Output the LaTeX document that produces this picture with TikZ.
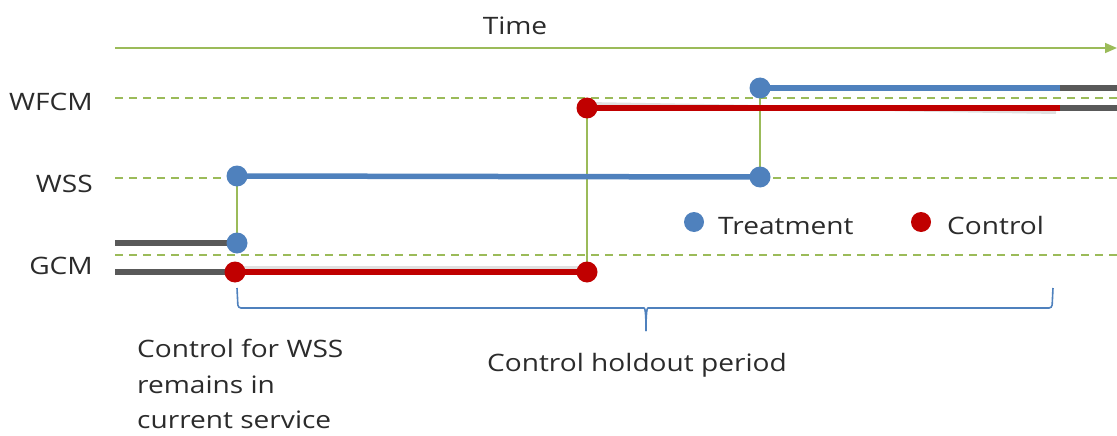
\documentclass[tikz,border=0pt]{standalone}
\usepackage{fontspec}
\setmainfont{Open Sans}[FakeStretch=1.17]
\usetikzlibrary{arrows.meta}
\definecolor{tgreen}{HTML}{9BBB59}
\definecolor{tblue}{HTML}{4F81BD}
\definecolor{tred}{HTML}{C00000}
\definecolor{tgray}{HTML}{595959}
\definecolor{ttext}{HTML}{2B2B2B}
\begin{document}
\begin{tikzpicture}[x=1pt,y=-1pt,
  lvl/.style={tgreen, line width=1.6pt, dash pattern=on 8pt off 6pt},
  txt/.style={font=\fontsize{24}{29}\selectfont, text=ttext, inner sep=0pt},
  ytick/.style={txt, anchor=east},
  conn/.style={tgreen, line width=1.6pt},
  bseg/.style={tblue, line width=5.5pt},
  rseg/.style={tred, line width=5.5pt},
  gseg/.style={tgray, line width=5.5pt},
  shadowline/.style={black!12, line width=4pt},
  bdot/.style={circle, fill=tblue, minimum size=21pt, inner sep=0pt},
  rdot/.style={circle, fill=tred, minimum size=21pt, inner sep=0pt},
  brace/.style={tblue, line width=1.6pt}
]
\useasboundingbox (0,0) rectangle (1117,436);
% time axis
\coordinate (t0) at (115,48);
\coordinate (t1) at (1117,48);
\draw[tgreen, line width=1.6pt, -{Triangle[length=12pt,width=10pt]}] (t0) -- (t1);
\node[txt] (time) at (515,26) {Time};
% level labels
\node[ytick] (lwfcm) at (93,102) {WFCM};
\node[ytick] (lwss) at (93,184) {WSS};
\node[ytick] (lgcm) at (93,266) {GCM};
% dashed levels
\coordinate (d1a) at (115,98); \coordinate (d1b) at (1117,98);
\coordinate (d2a) at (115,178); \coordinate (d2b) at (1117,178);
\coordinate (d3a) at (115,255); \coordinate (d3b) at (1117,255);
\draw[lvl] (d1a) -- (d1b);
\draw[lvl] (d2a) -- (d2b);
\draw[lvl] (d3a) -- (d3b);
% dots positions
\coordinate (b1) at (237,176);
\coordinate (b0) at (237,243);
\coordinate (b2) at (760,177);
\coordinate (b3) at (760,88);
\coordinate (r0) at (235,272);
\coordinate (r1) at (587,272);
\coordinate (r2) at (587,108);
% vertical connectors
\draw[conn] (b1) -- (b0);
\draw[conn] (r2) -- (r1);
\draw[conn] (b3) -- (b2);
% gray pre-lines
\coordinate (g1) at (115,243);
\coordinate (g2) at (115,272);
\draw[gseg] (g1) -- (b0);
\draw[gseg] (g2) -- (r0);
% shadows
\coordinate (s1) at (1056,112);
\draw[shadowline] ([yshift=4pt]r0) -- ([yshift=4pt]r1);
\draw[shadowline] ([yshift=4pt]r2) -- (s1);
% segments
\coordinate (e1) at (1060,88);
\coordinate (e2) at (1060,108);
\coordinate (f1) at (1117,88);
\coordinate (f2) at (1117,108);
\draw[bseg] (b1) -- (b2);
\draw[bseg] (b3) -- (e1);
\draw[gseg] (e1) -- (f1);
\draw[rseg] (r0) -- (r1);
\draw[rseg] (r2) -- (e2);
\draw[gseg] (e2) -- (f2);
% dots
\node[bdot] (nb1) at (b1) {};
\node[bdot] (nb0) at (b0) {};
\node[bdot] (nb2) at (b2) {};
\node[bdot] (nb3) at (b3) {};
\node[rdot] (nr0) at (r0) {};
\node[rdot] (nr1) at (r1) {};
\node[rdot] (nr2) at (r2) {};
% legend
\node[bdot, minimum size=20pt] (lgb) at (694,222) {};
\node[txt, anchor=west] (lgbt) at (718,226) {Treatment};
\node[rdot, minimum size=20pt] (lgr) at (921,222) {};
\node[txt, anchor=west] (lgrt) at (947,225) {Control};
% brace
\coordinate (brL) at (237,288);
\coordinate (brR) at (1053,288);
\coordinate (brM) at (646,331);
\draw[brace, rounded corners=3pt] (brL) -- (238,308) -- (641,308) .. controls (645,308) and (646,312) .. (brM);
\draw[brace, rounded corners=3pt] (brR) -- (1052,308) -- (651,308) .. controls (647,308) and (646,312) .. (brM);
% texts
\node[txt, anchor=west] (ctl) at (137,348) {Control for WSS};
\node[txt, anchor=west] (ctl2) at (137,385) {remains in};
\node[txt, anchor=west] (ctl3) at (137,420) {current service};
\node[txt] (hold) at (637,365) {Control holdout period};
\end{tikzpicture}
\end{document}
